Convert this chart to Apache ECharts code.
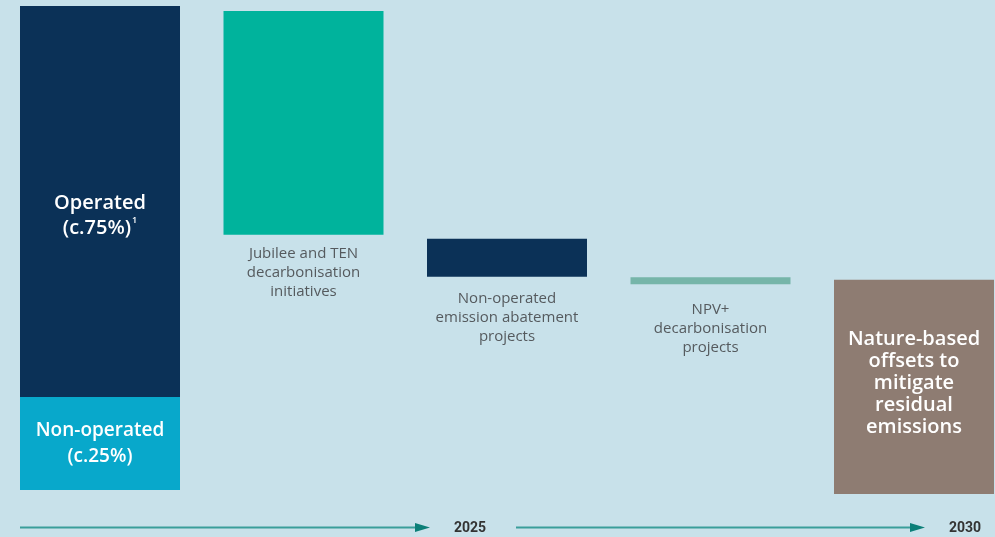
<!DOCTYPE html>
<html>
<head>
<meta charset="utf-8">
<script src="https://cdn.jsdelivr.net/npm/echarts@6/dist/echarts.min.js"></script>
<style>
  html, body { margin: 0; padding: 0; background: #c8e1ea; }
  #chart { width: 995px; height: 537px; }
</style>
</head>
<body>
<div id="chart"></div>
<script>
// waterfall steps (share of 2021 baseline, 0-100)
const categories = ['Baseline', 'Jubilee and TEN\ndecarbonisation\ninitiatives', 'Non-operated\nemission abatement\nprojects', 'NPV+\ndecarbonisation\nprojects', 'Nature-based\noffsets to\nmitigate\nresidual\nemissions'];
const baseValues = [0.8, 53.1, 44.5, 43.0, 0];
const nonOperatedValues = [19.1, '-', '-', '-', '-'];
const stepValues = [80.1, 45.9, 7.8, 1.4, 43.9];
const stepColors = ['#0b3157', '#00b39c', '#0b3157', '#76b5a9', '#8e7c72'];
const timeline = ['2025', '2030'];

const font = '"Open Sans", Roboto, sans-serif';

const chart = echarts.init(document.getElementById('chart'));

function stepLabel(i) {
  if (i === 0) {
    return {
      show: true, position: 'inside', offset: [0, 14],
      formatter: '{a|Operated}\n{a|(c.75%)}{sup|1}',
      rich: {
        a: { color: '#fff', fontSize: 20, fontWeight: 600, fontFamily: font, lineHeight: 25 },
        sup: { color: '#fff', fontSize: 9, fontWeight: 600, fontFamily: font, verticalAlign: 'top', lineHeight: 25, padding: [0, 0, 9, 1] }
      }
    };
  }
  if (i === 4) {
    return {
      show: true, position: 'inside', offset: [0, -4],
      formatter: categories[i],
      color: '#fff', fontSize: 20, fontWeight: 600, fontFamily: font, lineHeight: 22
    };
  }
  const dist = [0, 9, 12, 16][i];
  return {
    show: true, position: 'bottom', distance: dist,
    formatter: categories[i],
    color: '#555a5e', fontSize: 15, fontFamily: font, lineHeight: 19
  };
}

const option = {
  backgroundColor: '#c8e1ea',
  animation: false,
  // bars sit on the ticks (boundaryGap false), first at x=100, last at x=914
  grid: { left: 100, right: 81, top: 6, bottom: 43 },
  xAxis: {
    type: 'category',
    data: categories,
    boundaryGap: false,
    axisLine: { show: false },
    axisTick: { show: false },
    axisLabel: { show: false },
    splitLine: { show: false }
  },
  yAxis: {
    type: 'value', min: 0, max: 100,
    show: false,
    splitLine: { show: false }
  },
  series: [
    {
      name: 'base', type: 'bar', stack: 'total', barWidth: 160, clip: false,
      itemStyle: { color: 'transparent' },
      silent: true,
      data: baseValues
    },
    {
      name: 'Non-operated', type: 'bar', stack: 'total', barWidth: 160, clip: false,
      itemStyle: { color: '#08a8cb' },
      label: {
        show: true, position: 'inside',
        formatter: 'Non-operated\n(c.25%)',
        color: '#fff', fontSize: 19, fontWeight: 600, fontFamily: font, lineHeight: 26
      },
      data: nonOperatedValues
    },
    {
      name: 'step', type: 'bar', stack: 'total', barWidth: 160, clip: false,
      data: stepValues.map((v, i) => ({
        value: v,
        itemStyle: { color: stepColors[i] },
        label: stepLabel(i)
      }))
    }
  ],
  graphic: [
    { type: 'line', shape: { x1: 20, y1: 527.5, x2: 418, y2: 527.5 }, style: { stroke: '#3a9e9a', lineWidth: 2 } },
    { type: 'polygon', shape: { points: [[415, 523], [430, 527.5], [415, 532]] }, style: { fill: '#0b7f78' } },
    { type: 'text', x: 470, y: 528, style: { text: timeline[0], font: 'bold 14px Roboto, sans-serif', fill: '#333', align: 'center', verticalAlign: 'middle' } },
    { type: 'line', shape: { x1: 516, y1: 527.5, x2: 913, y2: 527.5 }, style: { stroke: '#3a9e9a', lineWidth: 2 } },
    { type: 'polygon', shape: { points: [[910, 523], [925, 527.5], [910, 532]] }, style: { fill: '#0b7f78' } },
    { type: 'text', x: 965, y: 528, style: { text: timeline[1], font: 'bold 14px Roboto, sans-serif', fill: '#333', align: 'center', verticalAlign: 'middle' } }
  ]
};

chart.setOption(option);
</script>
</body>
</html>
